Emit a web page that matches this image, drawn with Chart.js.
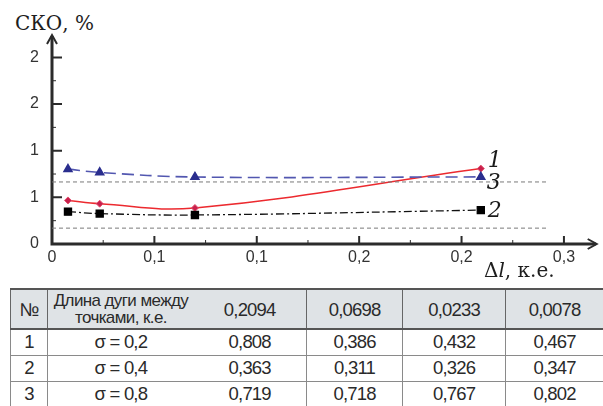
<!DOCTYPE html>
<html>
<head>
<meta charset="utf-8">
<script src="https://cdn.jsdelivr.net/npm/chart.js@4.4.1/dist/chart.umd.min.js"></script>
<style>
  html, body { margin: 0; padding: 0; background: #fff; overflow: hidden; }
  #wrap { position: relative; width: 603px; height: 406px; overflow: hidden; }
  #plot { position: absolute; left: 0; top: 0; width: 603px; height: 285px; }
  .ttl { position: absolute; font-family: 'DejaVu Serif', serif; color: #1e1e1e; white-space: nowrap; line-height: 1; }
  table { position: absolute; left: 10px; top: 288px; border-collapse: collapse; table-layout: fixed;
          font-family: 'Liberation Sans', Arial, sans-serif; font-size: 18.5px; letter-spacing: -0.8px; color: #2a2a2a; }
  tr { height: 26px; }
  tr.head { height: 40px; }
  td { text-align: center; padding: 0; border-left: 1px solid #8a8a8a; border-bottom: 1px solid #8a8a8a; line-height: 1; white-space: nowrap; font-weight: normal; }
  tr.head td { background: #dfe3e6; border-top: 2px solid #555; border-bottom: 2px solid #555; border-left: 1px solid #666; line-height: 17px; }
  tr.head td.cap { font-size: 17px; letter-spacing: -0.6px; }
  td.nob { border-left: none !important; }
</style>
</head>
<body>
<div id="wrap">
  <div class="ttl" style="left:15px; top:13px; font-size:20px;">СКО, %</div>
  <canvas id="plot" width="603" height="285"></canvas>
  <div class="ttl" style="left:484px; top:260px; font-size:20px;">Δ<i>l</i>, к.е.</div>
  <table id="tbl"></table>
</div>
<script>
// arc length between points, к.е. (table order)
const lengths = [0.2094, 0.0698, 0.0233, 0.0078];
const sigmaLabels = ['σ = 0,2', 'σ = 0,4', 'σ = 0,8'];
const sko1 = [0.808, 0.386, 0.432, 0.467];
const sko2 = [0.363, 0.311, 0.326, 0.347];
const sko3 = [0.719, 0.718, 0.767, 0.802];
// two grey dashed reference levels
const refLevels = [0.665, 0.17];
const refEnd = 0.242;

const xTicks = [0, 0.05, 0.1, 0.15, 0.2, 0.25];
const xTickLabels = ['0', '0,1', '0,1', '0,2', '0,2', '0,3'];
const yTicks = [0, 0.5, 1, 1.5, 2];
const yTickLabels = ['0', '1', '1', '2', '2'];

const fmt = (v, d) => v.toFixed(d).replace('.', ',');
const pts = (vals) => lengths.map((x, i) => ({ x: x, y: vals[i] })).sort((a, b) => a.x - b.x);

// table under the chart
const tbl = document.getElementById('tbl');
const widths = [39, 147, 119, 101, 108, 102];
tbl.innerHTML =
  '<colgroup>' + widths.map(w => '<col style="width:' + w + 'px">').join('') + '</colgroup>' +
  '<tr class="head"><td>№</td><td class="cap">Длина дуги между<br>точками, к.е.</td>' +
  lengths.map((l, i) => '<td' + (i === 0 ? ' class="nob"' : '') + '>' + fmt(l, 4) + '</td>').join('') + '</tr>' +
  [sko1, sko2, sko3].map((row, r) =>
    '<tr><td>' + (r + 1) + '</td><td>' + sigmaLabels[r] + '</td>' +
    row.map((v, i) => '<td' + (i === 0 ? ' class="nob"' : '') + '>' + fmt(v, 3) + '</td>').join('') + '</tr>'
  ).join('');

const axesPlugin = {
  id: 'axes',
  beforeDatasetsDraw (chart) {
    const { ctx, chartArea: a, scales: { x, y } } = chart;
    ctx.save();
    ctx.strokeStyle = '#2b2b2b';
    // minor ticks
    ctx.lineWidth = 1;
    ctx.beginPath();
    for (let i = 0; i < yTicks.length - 1; i++) {
      const py = y.getPixelForValue((yTicks[i] + yTicks[i + 1]) / 2);
      ctx.moveTo(a.left, py); ctx.lineTo(a.left + 4, py);
    }
    for (let i = 0; i < xTicks.length - 1; i++) {
      const px = x.getPixelForValue((xTicks[i] + xTicks[i + 1]) / 2);
      ctx.moveTo(px, a.bottom); ctx.lineTo(px, a.bottom - 4);
    }
    ctx.stroke();
    // major ticks
    ctx.lineWidth = 2;
    ctx.beginPath();
    yTicks.slice(1).forEach(v => {
      const py = y.getPixelForValue(v);
      ctx.moveTo(a.left, py); ctx.lineTo(a.left + 10, py);
    });
    xTicks.slice(1).forEach(v => {
      const px = x.getPixelForValue(v);
      ctx.moveTo(px, a.bottom); ctx.lineTo(px, a.bottom - 8);
    });
    ctx.stroke();
    // axis lines
    ctx.lineWidth = 3;
    ctx.beginPath();
    ctx.moveTo(a.left, a.top + 1); ctx.lineTo(a.left, a.bottom);
    ctx.lineTo(a.right - 1, a.bottom);
    ctx.stroke();
    // arrow heads
    ctx.lineWidth = 2;
    ctx.beginPath();
    ctx.moveTo(a.left - 5, a.top + 9); ctx.lineTo(a.left, a.top); ctx.lineTo(a.left + 5, a.top + 9);
    ctx.moveTo(a.right - 9, a.bottom - 5); ctx.lineTo(a.right, a.bottom); ctx.lineTo(a.right - 9, a.bottom + 5);
    ctx.stroke();
    ctx.restore();
  }
};

const tagPlugin = {
  id: 'tags',
  afterDatasetsDraw (chart) {
    const ctx = chart.ctx;
    chart.data.datasets.forEach((ds, i) => {
      if (!ds.tag) return;
      const els = chart.getDatasetMeta(i).data;
      const p = els[els.length - 1];
      ctx.save();
      ctx.font = 'italic 22px "DejaVu Serif"';
      ctx.fillStyle = '#1a1a1a';
      ctx.textBaseline = 'middle';
      ctx.fillText(ds.tag, p.x + ds.tagDx, p.y + ds.tagDy);
      ctx.restore();
    });
  }
};

const tickFont = { family: "'Liberation Sans', Arial, sans-serif", size: 16 };

new Chart(document.getElementById('plot').getContext('2d'), {
  type: 'line',
  data: {
    datasets: [
      {
        label: 'ref1', data: [{ x: 0, y: refLevels[0] }, { x: refEnd, y: refLevels[0] }],
        borderColor: '#7a7a7a', borderWidth: 1, borderDash: [4, 3], pointRadius: 0, tension: 0
      },
      {
        label: 'ref2', data: [{ x: 0, y: refLevels[1] }, { x: refEnd, y: refLevels[1] }],
        borderColor: '#7a7a7a', borderWidth: 1, borderDash: [4, 3], pointRadius: 0, tension: 0
      },
      {
        label: sigmaLabels[2], data: pts(sko3), tag: '3', tagDx: 6, tagDy: 6,
        borderColor: '#5257b0', borderWidth: 1.6, borderDash: [12, 6], tension: 0.4,
        pointStyle: 'triangle', pointRadius: 4.5, pointBackgroundColor: '#2a2e8e', pointBorderColor: '#2a2e8e'
      },
      {
        label: sigmaLabels[1], data: pts(sko2), tag: '2', tagDx: 7, tagDy: 1,
        borderColor: '#111', borderWidth: 1.3, borderDash: [8, 3, 2, 3], tension: 0.4,
        pointStyle: 'rect', pointRadius: 5, pointBackgroundColor: '#000', pointBorderColor: '#000'
      },
      {
        label: sigmaLabels[0], data: pts(sko1), tag: '1', tagDx: 7, tagDy: -7,
        borderColor: '#ec2a2f', borderWidth: 1.5, tension: 0.4,
        pointStyle: 'rectRot', pointRadius: 3.5, pointBackgroundColor: '#c8204c', pointBorderColor: '#e2506e', pointBorderWidth: 1
      }
    ]
  },
  options: {
    responsive: false,
    animation: false,
    layout: { padding: { top: 35, right: 3, left: 0, bottom: 0 } },
    plugins: { legend: { display: false }, tooltip: { enabled: false } },
    scales: {
      x: {
        type: 'linear', min: 0, max: 0.266,
        afterBuildTicks: s => { s.ticks = xTicks.map(v => ({ value: v })); },
        afterFit: s => { s.height = 41; },
        grid: { display: false }, border: { display: false },
        ticks: { padding: -4, color: '#333', font: tickFont, maxRotation: 0, autoSkip: false,
          callback: (v, i) => xTickLabels[i] }
      },
      y: {
        type: 'linear', min: 0, max: 2.24,
        afterBuildTicks: s => { s.ticks = yTicks.map(v => ({ value: v })); },
        afterFit: s => { s.width = 52; },
        grid: { display: false }, border: { display: false },
        ticks: { padding: 5, color: '#333', font: tickFont, autoSkip: false,
          callback: (v, i) => yTickLabels[i] }
      }
    }
  },
  plugins: [axesPlugin, tagPlugin]
});
</script>
</body>
</html>
